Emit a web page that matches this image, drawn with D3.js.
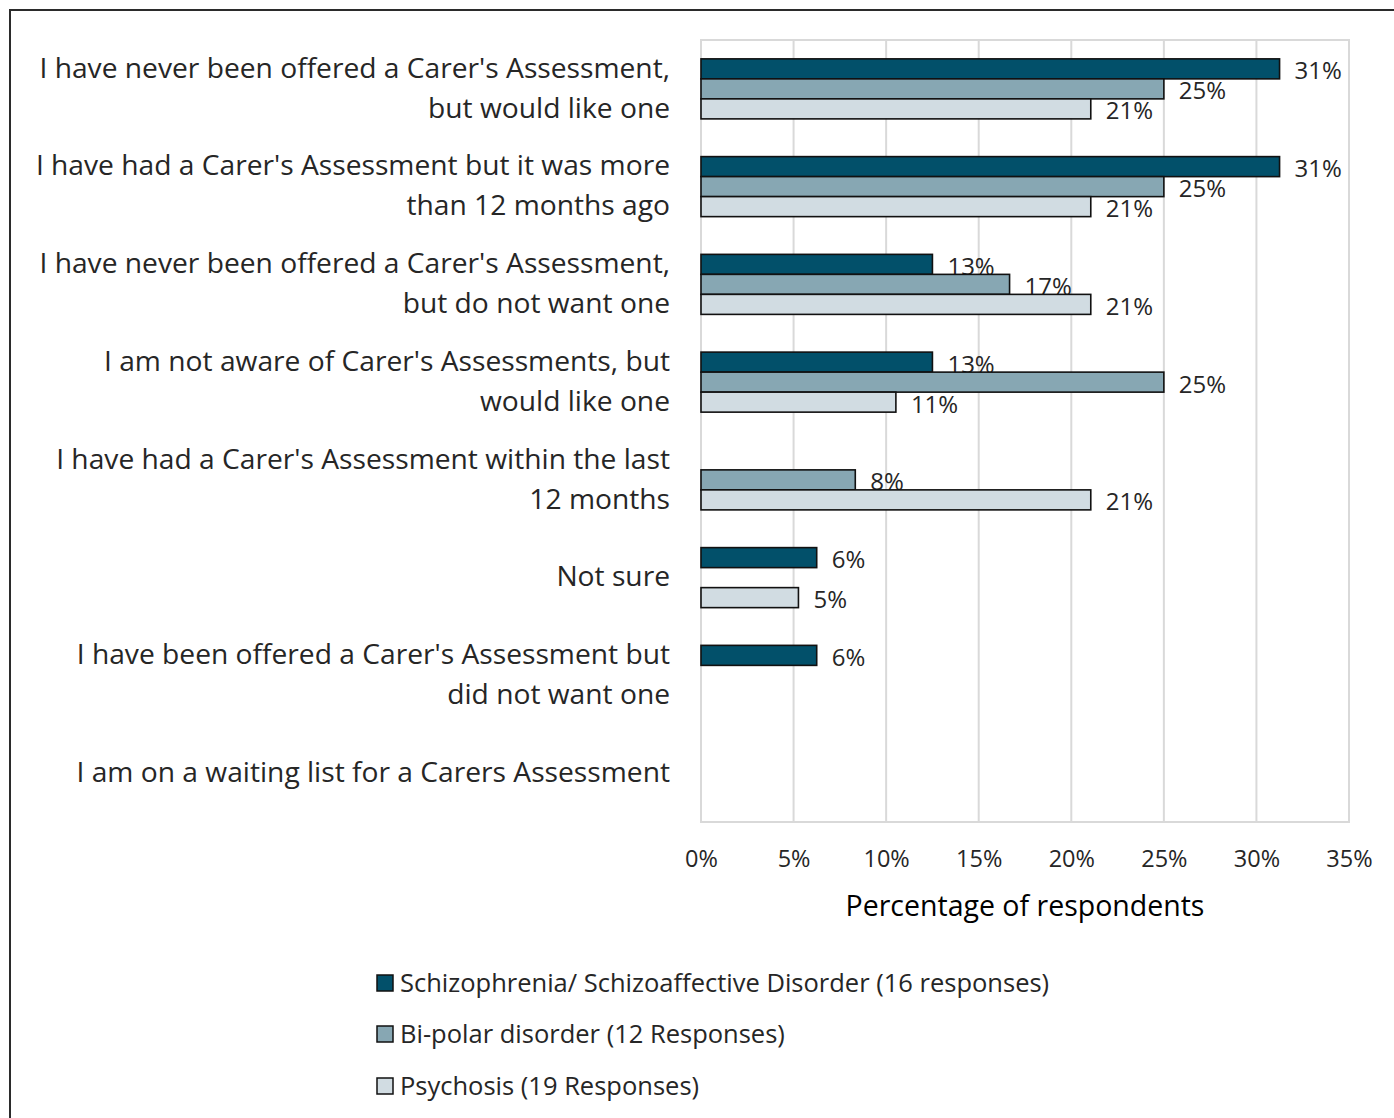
<!DOCTYPE html>
<html>
<head>
<meta charset="utf-8">
<script src="https://cdn.jsdelivr.net/npm/d3@7"></script>
<style>
  html, body { margin: 0; padding: 0; background: #fff; }
  svg { display: block; }
  text { font-family: "Open Sans", sans-serif; }
</style>
</head>
<body>
<script>
// Survey answers (line breaks mark how each label wraps)
const categories = [
  "I have never been offered a Carer's Assessment,\nbut would like one",
  "I have had a Carer's Assessment but it was more\nthan 12 months ago",
  "I have never been offered a Carer's Assessment,\nbut do not want one",
  "I am not aware of Carer's Assessments, but\nwould like one",
  "I have had a Carer's Assessment within the last\n12 months",
  "Not sure",
  "I have been offered a Carer's Assessment but\ndid not want one",
  "I am on a waiting list for a Carers Assessment"
];

const seriesNames = [
  "Schizophrenia/ Schizoaffective Disorder (16 responses)",
  "Bi-polar disorder (12 Responses)",
  "Psychosis (19 Responses)"
];

// Share of respondents in each group (fractions)
const schizophrenia = [5/16, 5/16, 2/16, 2/16, 0, 1/16, 1/16, 0];
const bipolar       = [3/12, 3/12, 2/12, 3/12, 1/12, 0, 0, 0];
const psychosis     = [4/19, 4/19, 4/19, 2/19, 4/19, 1/19, 0, 0];

const xTicks = [0, 0.05, 0.10, 0.15, 0.20, 0.25, 0.30, 0.35];
const axisTitle = "Percentage of respondents";

const series = [schizophrenia, bipolar, psychosis];
const colors = ["#02506a", "#87a7b3", "#d1dce2"];

const W = 1394, H = 1118;
const plot = { left: 701, right: 1349, top: 40, bottom: 822 };

const svg = d3.select("body").append("svg")
  .attr("width", W).attr("height", H);

// outer frame
svg.append("rect")
  .attr("x", 10).attr("y", 10)
  .attr("width", W + 10).attr("height", H + 10)
  .attr("fill", "none").attr("stroke", "#2b2b2b").attr("stroke-width", 2);

const x = d3.scaleLinear().domain([0, 0.35]).range([plot.left, plot.right]);
const y = d3.scaleBand().domain(d3.range(categories.length))
  .range([plot.top, plot.bottom]).paddingInner(0).paddingOuter(0);
const bandPad = 0.386; // share of each band left empty around the bar group
const inner = d3.scaleBand().domain(d3.range(series.length))
  .range([0, y.bandwidth() * (1 - bandPad)]);

// gridlines + plot frame
svg.append("g")
  .selectAll("line").data(xTicks).join("line")
  .attr("x1", d => x(d)).attr("x2", d => x(d))
  .attr("y1", plot.top).attr("y2", plot.bottom)
  .attr("stroke", "#d9d9d9").attr("stroke-width", 2);
svg.append("rect")
  .attr("x", plot.left).attr("y", plot.top)
  .attr("width", plot.right - plot.left).attr("height", plot.bottom - plot.top)
  .attr("fill", "none").attr("stroke", "#d9d9d9").attr("stroke-width", 2);

// x axis tick labels
const xAxis = d3.axisBottom(x).tickValues(xTicks).tickFormat(d3.format(".0%")).tickSize(0).tickPadding(0);
const gx = svg.append("g").attr("transform", `translate(0,${plot.bottom})`).call(xAxis);
gx.select(".domain").remove();
gx.selectAll("text")
  .attr("y", 37).attr("dy", "0.35em")
  .attr("fill", "#262626")
  .style("font-family", "'Open Sans', sans-serif")
  .style("font-size", "23.5px");

svg.append("text")
  .attr("x", (plot.left + plot.right) / 2).attr("y", 906)
  .attr("dy", "0.35em").attr("text-anchor", "middle")
  .attr("fill", "#000").style("font-size", "28.5px")
  .text(axisTitle);

// category labels
const catG = svg.append("g");
categories.forEach((c, i) => {
  const lines = c.split("\n");
  const cy = y(i) + y.bandwidth() / 2;
  const lh = 40;
  const t = catG.append("text")
    .attr("text-anchor", "end")
    .attr("fill", "#262626")
    .style("font-size", "28.2px");
  lines.forEach((ln, k) => {
    t.append("tspan")
      .attr("x", 670)
      .attr("y", cy - 1 + (k - (lines.length - 1) / 2) * lh)
      .attr("dy", "0.35em")
      .text(ln);
  });
});

const offset = y.bandwidth() * bandPad / 2;
const fmt = d3.format(".0%");

// value labels sit beneath the bars
const labelG = svg.append("g");
const barG = svg.append("g");
series.forEach((vals, s) => {
  vals.forEach((v, i) => {
    if (v <= 0) return;
    const by = y(i) + offset + inner(s);
    barG.append("rect")
      .attr("x", x(0)).attr("y", by)
      .attr("width", x(v) - x(0)).attr("height", inner.bandwidth())
      .attr("fill", colors[s]).attr("stroke", "#111").attr("stroke-width", 1.6);
    labelG.append("text")
      .attr("x", x(v) + 15)
      .attr("y", by + inner.bandwidth() / 2 + 2)
      .attr("dy", "0.35em")
      .attr("fill", "#262626")
      .style("font-size", "24px")
      .text(fmt(v));
  });
});

// legend
const legend = svg.append("g");
const legendY = [983, 1034, 1086];
seriesNames.forEach((n, s) => {
  legend.append("rect")
    .attr("x", 377).attr("y", legendY[s] - 8)
    .attr("width", 16).attr("height", 16)
    .attr("fill", colors[s]).attr("stroke", "#111").attr("stroke-width", 1.5);
  legend.append("text")
    .attr("x", 400).attr("y", legendY[s]).attr("dy", "0.35em")
    .attr("fill", "#262626").style("font-size", "25.5px")
    .text(n);
});
</script>
</body>
</html>
